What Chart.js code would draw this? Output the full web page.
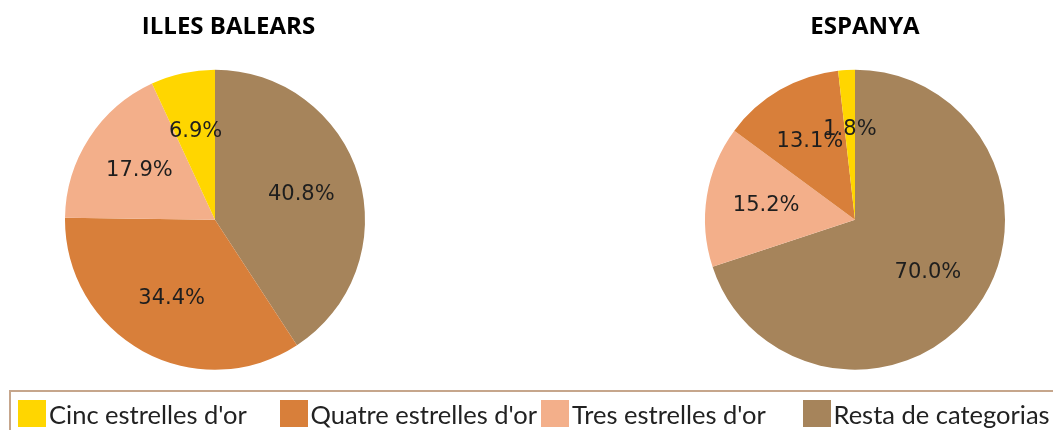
<!DOCTYPE html>
<html>
<head>
<meta charset="utf-8">
<script src="https://cdn.jsdelivr.net/npm/chart.js@4/dist/chart.umd.min.js"></script>
<style>
  html, body { margin: 0; padding: 0; background: #fff; width: 1053px; height: 430px; overflow: hidden; }
  #wrap { position: relative; width: 1053px; height: 430px; }
  canvas { position: absolute; top: 0; }
  #c1 { left: 0; }
  #c2 { left: 677px; }
  #legend { position: absolute; left: 9px; top: 390px; width: 1100px; height: 60px;
            border: 2px solid #C6A68C; border-right: none; box-sizing: border-box;
            padding: 8px 0 0 7px; display: flex; align-items: flex-start; }
  .item { width: 261.5px; flex: none; display: flex; align-items: flex-start; }
  .sw { width: 28px; height: 27px; flex: none; margin-right: 3px; }
  .lbl { font-family: Lato, sans-serif; font-size: 25.5px; line-height: 27px; color: #222; margin-top: 1px; white-space: nowrap; }
</style>
</head>
<body>
<div id="wrap">
  <canvas id="c1" width="457" height="392"></canvas>
  <canvas id="c2" width="376" height="392"></canvas>
  <div id="legend"></div>
</div>
<script>
// ---- data ----
const categories = ["Cinc estrelles d'or", "Quatre estrelles d'or", "Tres estrelles d'or", "Resta de categorias"];
const colors = ["#FFD600", "#D87F3A", "#F3AF8A", "#A6845B"];
const titles = ["ILLES BALEARS", "ESPANYA"];
const balears = [6.9, 34.4, 17.9, 40.8];
const espanya = [1.8, 13.1, 15.2, 70.0];
// clockwise drawing order of the categories, starting at 12 o'clock
const balearsOrder = [3, 1, 2, 0];
const espanyaOrder = [3, 2, 1, 0];

const labelPlugin = {
  id: 'sliceLabels',
  afterDatasetsDraw(chart) {
    const ctx = chart.ctx;
    const ds = chart.data.datasets[0];
    const meta = chart.getDatasetMeta(0);
    ctx.save();
    ctx.font = '21px "DejaVu Sans", sans-serif';
    ctx.fillStyle = '#1e1e1e';
    ctx.textAlign = 'center';
    ctx.textBaseline = 'middle';
    meta.data.forEach((arc, i) => {
      const p = arc.getProps(['x', 'y', 'startAngle', 'endAngle', 'outerRadius'], true);
      const mid = (p.startAngle + p.endAngle) / 2;
      const r = p.outerRadius * 0.6;
      ctx.fillText(ds.data[i].toFixed(1) + '%', p.x + Math.cos(mid) * r, p.y + Math.sin(mid) * r);
    });
    // chart title, centred on the canvas
    const t = chart.options.plugins.pieTitle;
    ctx.font = 'bold 24px "Open Sans", sans-serif';
    ctx.fillStyle = '#000';
    ctx.textBaseline = 'alphabetic';
    ctx.fillText(t.text, chart.width / 2, 33.5);
    ctx.restore();
  }
};

function makePie(id, title, values, order, padRight) {
  new Chart(document.getElementById(id), {
    type: 'pie',
    data: {
      labels: order.map(i => categories[i]),
      datasets: [{
        data: order.map(i => values[i]),
        backgroundColor: order.map(i => colors[i]),
        borderWidth: 0,
        radius: 150
      }]
    },
    options: {
      responsive: false,
      devicePixelRatio: 1,
      animation: false,
      layout: { padding: { left: 0, right: padRight, top: 47.4, bottom: 0 } },
      plugins: {
        legend: { display: false },
        tooltip: { enabled: false },
        title: { display: false },
        pieTitle: { text: title }
      }
    },
    plugins: [labelPlugin]
  });
}

makePie('c1', titles[0], balears, balearsOrder, 27);
makePie('c2', titles[1], espanya, espanyaOrder, 20);

// legend
const lg = document.getElementById('legend');
categories.forEach((c, i) => {
  const it = document.createElement('div');
  it.className = 'item';
  const sw = document.createElement('div');
  sw.className = 'sw';
  sw.style.background = colors[i];
  const tx = document.createElement('span');
  tx.className = 'lbl';
  tx.textContent = c;
  it.appendChild(sw);
  it.appendChild(tx);
  lg.appendChild(it);
});
</script>
</body>
</html>
